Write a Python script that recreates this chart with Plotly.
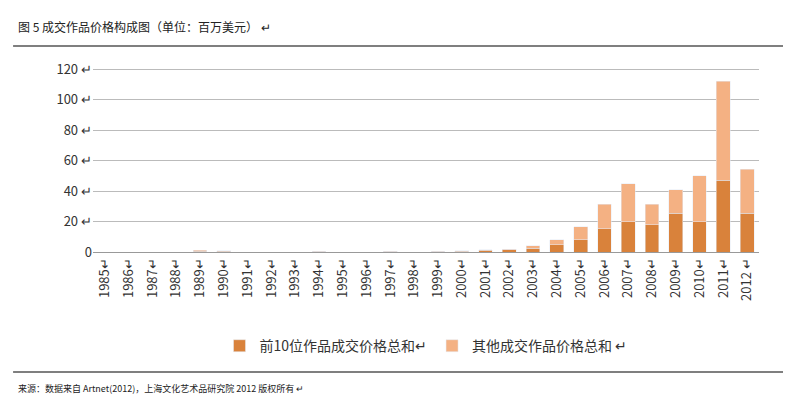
import plotly.graph_objects as go

years = [str(y) for y in range(1985, 2013)]
top10 = [0,0,0,0,0.6,0.5,0,0,0,0.4,0,0,0.4,0,0.4,0.5,1.2,1.4,2.6,4.8,8.1,15.2,19.8,17.8,25.3,19.8,47.0,25.3]
other = [0,0,0,0,0.4,0.3,0,0,0,0.2,0,0,0.2,0,0.2,0.3,0.4,0.4,1.6,3.3,8.4,16.0,25.0,13.4,15.4,30.1,65.0,29.0]
tick_vals = [0,20,40,60,80,100,120]
tick_text = ["0","20 ↵","40 ↵","60 ↵","80 ↵","100 ↵","120 ↵"]
year_labels = [y + ("↵" if y != "2012" else " ↵") for y in years]

font = "Noto Sans CJK SC"
fig = go.Figure()
fig.add_bar(x=year_labels, y=top10, name="前10位作品成交价格总和↵", marker_color="#D9823B")
fig.add_bar(x=year_labels, y=other, name="其他成交作品价格总和 ↵", marker_color="#F4B183")
fig.update_layout(
    barmode="stack", bargap=0.42, width=791, height=400,
    paper_bgcolor="white", plot_bgcolor="white",
    margin=dict(l=85, r=40, t=58, b=156),
    font=dict(family=font, size=13, color="#333"),
    legend=dict(orientation="h", x=0.5, xanchor="center", y=-0.42, yanchor="top",
                traceorder="normal", font=dict(size=14)),
    showlegend=True,
    annotations=[
        dict(text="图 5 成交作品价格构成图（单位：百万美元） ↵", x=0, y=1, xref="paper", yref="paper",
             xanchor="left", yanchor="top", showarrow=False, font=dict(size=12, color="#222"),
             xshift=-77, yshift=50),
        dict(text="来源：数据来自 Artnet(2012)，上海文化艺术品研究院 2012 版权所有 ↵", x=0, y=0,
             xref="paper", yref="paper", xanchor="left", yanchor="top", showarrow=False,
             font=dict(size=9, color="#222"), xshift=-77, yshift=-128),
    ],
    shapes=[
        dict(type="line", xref="paper", yref="paper", x0=-0.12, x1=1.06, y0=1.108, y1=1.108,
             line=dict(color="#555", width=1.5)),
        dict(type="line", xref="paper", yref="paper", x0=-0.12, x1=1.06, y0=-0.645, y1=-0.645,
             line=dict(color="#555", width=1.5)),
    ],
)
fig.update_yaxes(range=[0, 122], tickvals=tick_vals, ticktext=tick_text, showgrid=True,
                 gridcolor="#bbb", zeroline=False, showline=False, tickfont=dict(size=13))
fig.update_xaxes(tickangle=-90, showline=True, linecolor="#999", tickfont=dict(size=13))
fig.write_html("out.html")
